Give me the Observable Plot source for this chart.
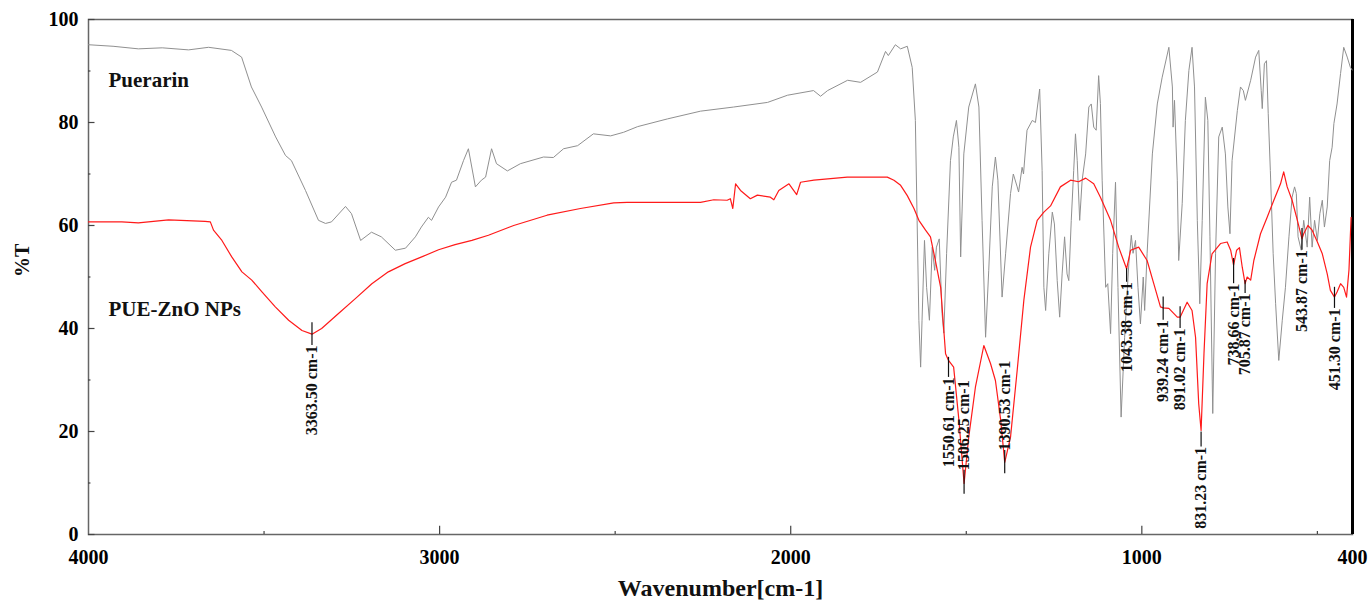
<!DOCTYPE html>
<html>
<head>
<meta charset="utf-8">
<script src="https://cdn.jsdelivr.net/npm/d3@7"></script>
<script src="https://cdn.jsdelivr.net/npm/@observablehq/plot@0.6"></script>
<style>
  html, body { margin: 0; padding: 0; background: #fff; overflow: hidden; }
  #chart { width: 1370px; height: 605px; }
</style>
</head>
<body>
<div id="chart"></div>
<script>
// ---- Data: [wavenumber (cm-1), %T] ----
const puerarin = [
  [4000,95.1],[3930,94.8],[3858,94.3],[3790,94.5],[3715,94.1],[3658,94.6],[3593,94.0],[3564,92.7],[3536,86.9],[3507,83.0],
  [3467,77.2],[3439,73.6],[3422,72.6],[3382,66.8],[3345,61.0],[3325,60.4],[3308,60.7],[3268,63.7],
  [3251,62.3],[3225,57.1],[3194,58.7],[3166,57.8],[3126,55.2],[3097,55.6],[3069,57.8],[3052,59.7],
  [3032,61.6],[3023,61.0],[3003,63.6],[2983,65.5],[2966,68.4],[2952,68.8],[2932,72.6],[2918,74.9],
  [2898,67.5],[2881,68.8],[2869,69.4],[2852,74.9],[2838,72.0],[2807,70.6],[2770,72.0],[2704,73.3],
  [2676,73.2],[2647,74.9],[2607,75.5],[2562,77.8],[2513,77.4],[2476,78.1],[2436,79.2],[2351,80.7],
  [2257,82.2],[2163,83.0],[2066,83.9],[2009,85.3],[1935,86.2],[1915,85.1],[1895,86.2],[1838,88.2],
  [1801,87.8],[1753,89.8],[1730,93.8],[1722,93.0],[1702,95.1],[1687,94.3],[1668,94.8],[1654,90.7],
  [1645,80.4],[1640,61.0],[1635,41.6],[1630,32.5],[1626,41.6],[1619,57.1],[1613,48.0],[1605,41.6],
  [1597,55.8],[1590,51.3],[1585,55.8],[1577,57.4],[1569,42.9],[1564,39.1],[1556,54.6],[1545,72.6],
  [1537,77.2],[1528,80.4],[1521,75.2],[1516,53.9],[1507,73.9],[1493,83.0],[1474,87.5],[1464,83.0],
  [1455,61.0],[1445,38.3],[1436,51.3],[1426,67.5],[1417,73.3],[1410,68.8],[1398,46.1],[1388,54.5],
  [1374,66.2],[1366,70.0],[1355,67.5],[1351,66.5],[1341,71.3],[1337,70.0],[1327,78.5],[1312,80.4],
  [1303,80.0],[1291,86.5],[1284,70.7],[1279,48.0],[1274,43.5],[1265,54.5],[1255,62.6],[1249,60.3],
  [1241,49.3],[1234,42.2],[1227,50.6],[1220,57.8],[1213,50.6],[1208,49.3],[1201,61.0],[1194,70.7],
  [1189,77.8],[1184,72.6],[1177,61.0],[1170,68.8],[1160,73.9],[1151,83.0],[1144,83.6],[1137,79.1],
  [1130,78.5],[1123,89.1],[1118,83.7],[1113,68.8],[1103,48.0],[1097,48.7],[1089,39.0],[1083,54.6],
  [1075,68.4],[1068,48.0],[1059,22.8],[1049,38.3],[1037,52.6],[1030,58.1],[1025,54.6],[1018,57.1],
  [1011,48.0],[1004,40.9],[996,50.0],[992,43.5],[985,54.6],[970,73.9],[956,83.6],[942,88.8],
  [923,94.6],[913,86.9],[911,79.1],[907,84.3],[899,68.8],[895,53.2],[885,64.3],[876,80.4],
  [866,90.1],[857,94.6],[850,86.9],[842,61.0],[835,44.8],[828,61.0],[819,84.9],[812,80.4],
  [806,57.8],[798,23.5],[790,54.6],[781,77.2],[771,79.1],[762,73.9],[755,63.6],[749,58.4],
  [743,72.6],[728,82.3],[719,86.9],[711,86.2],[705,84.3],[690,88.2],[676,92.7],[667,94.0],
  [660,86.2],[657,82.7],[651,91.4],[645,92.0],[640,81.7],[634,70.7],[626,54.6],[619,44.9],
  [610,33.8],[600,41.6],[591,48.0],[581,57.8],[572,65.5],[565,67.5],[560,66.2],[555,57.8],
  [546,55.2],[539,61.0],[529,55.8],[522,65.5],[515,55.8],[508,61.0],[500,57.1],[493,62.3],
  [486,64.9],[480,59.7],[472,63.6],[465,72.6],[458,75.2],[453,79.8],[444,83.6],[434,89.5],
  [425,94.6],[415,92.7],[406,90.7],[401,90.2]
];

const pueZnO = [
  [4000,60.7],[3905,60.7],[3858,60.5],[3772,61.1],[3668,60.8],[3653,60.7],[3644,59.1],[3620,57.1],
  [3592,53.9],[3563,51.0],[3535,49.4],[3506,47.1],[3468,44.2],[3430,41.6],[3392,39.6],[3363.5,38.9],
  [3336,40.0],[3288,42.9],[3240,45.8],[3193,48.7],[3146,51.0],[3098,52.6],[3051,53.9],[3003,55.3],
  [2956,56.3],[2908,57.1],[2861,58.1],[2804,59.6],[2789,60.0],[2694,62.0],[2599,63.3],[2504,64.4],
  [2466,64.5],[2257,64.5],[2219,65.0],[2181,64.9],[2172,65.2],[2165,63.3],[2157,68.1],[2143,66.8],
  [2115,65.2],[2095,65.9],[2058,65.5],[2048,65.0],[2034,66.8],[2005,68.1],[1983,66.0],[1972,68.4],
  [1934,68.8],[1839,69.4],[1725,69.4],[1706,68.8],[1687,67.8],[1668,65.8],[1649,63.3],[1635,61.0],
  [1616,59.1],[1602,57.8],[1588,53.2],[1573,48.0],[1559,35.1],[1550.6,33.8],[1536,32.5],[1521,22.2],
  [1506.25,9.9],[1493,18.9],[1474,28.6],[1450,36.7],[1431,33.2],[1417,29.9],[1402,22.2],[1390.5,14.0],
  [1374,18.9],[1355,31.9],[1336,45.5],[1317,55.8],[1298,61.0],[1279,62.6],[1260,63.8],[1232,67.5],
  [1203,68.8],[1180,68.5],[1160,69.2],[1137,68.1],[1118,65.5],[1089,61.0],[1066,55.8],[1043.4,51.6],
  [1032,55.2],[1009,55.8],[985,53.2],[966,48.7],[947,44.2],[939.2,44.0],[923,43.9],[899,42.2],
  [891,42.2],[871,45.1],[857,43.5],[847,38.3],[838,25.4],[831.2,20.2],[823,35.1],[814,48.7],
  [800,54.5],[776,56.5],[757,56.8],[747,55.2],[738.7,52.3],[730,55.2],[722,55.7],[714,51.9],
  [705.9,48.7],[700,50.0],[690,49.4],[681,53.2],[662,58.4],[643,61.6],[624,64.9],[605,68.1],
  [596,70.4],[586,67.5],[572,64.9],[557,61.0],[543.9,57.4],[539,58.4],[527,60.0],[515,59.1],
  [500,56.8],[486,54.5],[472,50.6],[463,47.4],[451.3,46.1],[444,47.1],[434,48.7],[425,48.0],
  [417,46.1],[410,51.4],[404,61.6]
];

// Peak annotations (wavenumber, label text)
const peakWn    = [3363.50, 1550.61, 1506.25, 1390.53, 1043.38, 939.24, 891.02, 831.23, 738.66, 705.87, 543.87, 451.30];
const peakText  = ["3363.50 cm-1","1550.61 cm-1","1506.25 cm-1","1390.53 cm-1","1043.38 cm-1","939.24 cm-1",
                   "891.02 cm-1","831.23 cm-1","738.66 cm-1","705.87 cm-1","543.87 cm-1","451.30 cm-1"];
// Annotation layout (in %T units): leader line ends and text anchor, and side of the peak
const leaderFrom = [41.1, 34.4, 12.5, 16.3, 51.6, 46.1, 44.2, 19.9, 53.6, 49.3, 59.4, 48.0];
const leaderTo   = [36.7, 30.5,  7.8, 11.8, 49.0, 41.6, 40.0, 17.0, 48.7, 46.8, 55.2, 43.9];
const labelAt    = [36.7, 30.5, 12.5, 16.3, 49.0, 41.6, 40.0, 17.0, 48.7, 46.8, 55.2, 43.9];
const labelSide  = ["below","below","above","above","below","below","below","below","below","below","below","below"];

// Axis ticks
const xTickLabels = [4000, 3000, 2000, 1000, 400];
const xMajor = [3000, 2000, 1000];
const xMinor = [3500, 2500, 1500, 500];
const yMajor = [0, 20, 40, 60, 80, 100];
const yMinor = [10, 30, 50, 70, 90];

// Series names
const seriesNames = ["Puerarin", "PUE-ZnO NPs"];
const seriesNameAt = [[3943, 88.2], [3943, 43.7]];

const peaks = peakWn.map((wn, i) => ({
  wn, text: peakText[i], from: leaderFrom[i], to: leaderTo[i], at: labelAt[i], side: labelSide[i]
}));

const serif = "'Liberation Serif', 'Times New Roman', serif";

const chart = Plot.plot({
  width: 1370,
  height: 605,
  marginLeft: 88,
  marginRight: 18,
  marginTop: 19,
  marginBottom: 71,
  x: {domain: [4000, 400], axis: null, label: null},
  y: {domain: [0, 100], axis: null, label: null},
  style: {background: "white", color: "black", fontFamily: serif},
  marks: [
    Plot.frame({stroke: "#666", strokeWidth: 1.5}),
    Plot.ruleX([400], {stroke: "black", strokeWidth: 3}),
    // inner ticks
    Plot.ruleY(yMajor, {x1: 4000, x2: 4000 - 18.5, stroke: "#444", strokeWidth: 1.2}),
    Plot.ruleY(yMinor, {x1: 4000, x2: 4000 - 7, stroke: "#444", strokeWidth: 1.2}),
    Plot.ruleX(xMajor, {y1: 0, y2: 1.6, stroke: "#444", strokeWidth: 1.2}),
    Plot.ruleX(xMinor, {y1: 0, y2: 0.6, stroke: "#444", strokeWidth: 1.2}),
    Plot.axisX({ticks: xTickLabels, tickSize: 0, tickPadding: 15, fontSize: 20, fontWeight: "bold",
                label: null, tickFormat: d => String(d)}),
    Plot.axisY({ticks: yMajor, tickSize: 0, tickPadding: 10, fontSize: 20, fontWeight: "bold",
                label: null, tickFormat: d => String(d)}),
    // spectra
    Plot.line(puerarin, {x: d => d[0], y: d => d[1], stroke: "#909090", strokeWidth: 1}),
    Plot.line(pueZnO, {x: d => d[0], y: d => d[1], stroke: "#ff1a1a", strokeWidth: 1.2}),
    // peak leaders
    Plot.ruleX(peaks, {x: "wn", y1: "from", y2: "to", stroke: "#111", strokeWidth: 1.2}),
    Plot.text(peaks.filter(d => d.side === "below"), {
      x: "wn", y: "at", text: "text", rotate: -90, textAnchor: "end", lineAnchor: "middle",
      fontSize: 16, fontWeight: "bold", fontFamily: serif, fill: "#111"
    }),
    Plot.text(peaks.filter(d => d.side === "above"), {
      x: "wn", y: "at", text: "text", rotate: -90, textAnchor: "start", lineAnchor: "middle",
      fontSize: 16, fontWeight: "bold", fontFamily: serif, fill: "#111"
    }),
    // series names
    Plot.text(seriesNames, {
      x: (d, i) => seriesNameAt[i][0], y: (d, i) => seriesNameAt[i][1], text: d => d,
      textAnchor: "start", lineAnchor: "middle", fontSize: 21, fontWeight: "bold", fill: "#111"
    }),
    // axis titles
    Plot.text(["%T"], {frameAnchor: "left", dx: -66, rotate: -90, fontSize: 20, fontWeight: "bold", fill: "#111"}),
    Plot.text(["Wavenumber[cm-1]"], {frameAnchor: "bottom", dy: 61, fontSize: 24, fontWeight: "bold", fill: "#111"})
  ]
});

document.getElementById("chart").appendChild(chart);
</script>
</body>
</html>
